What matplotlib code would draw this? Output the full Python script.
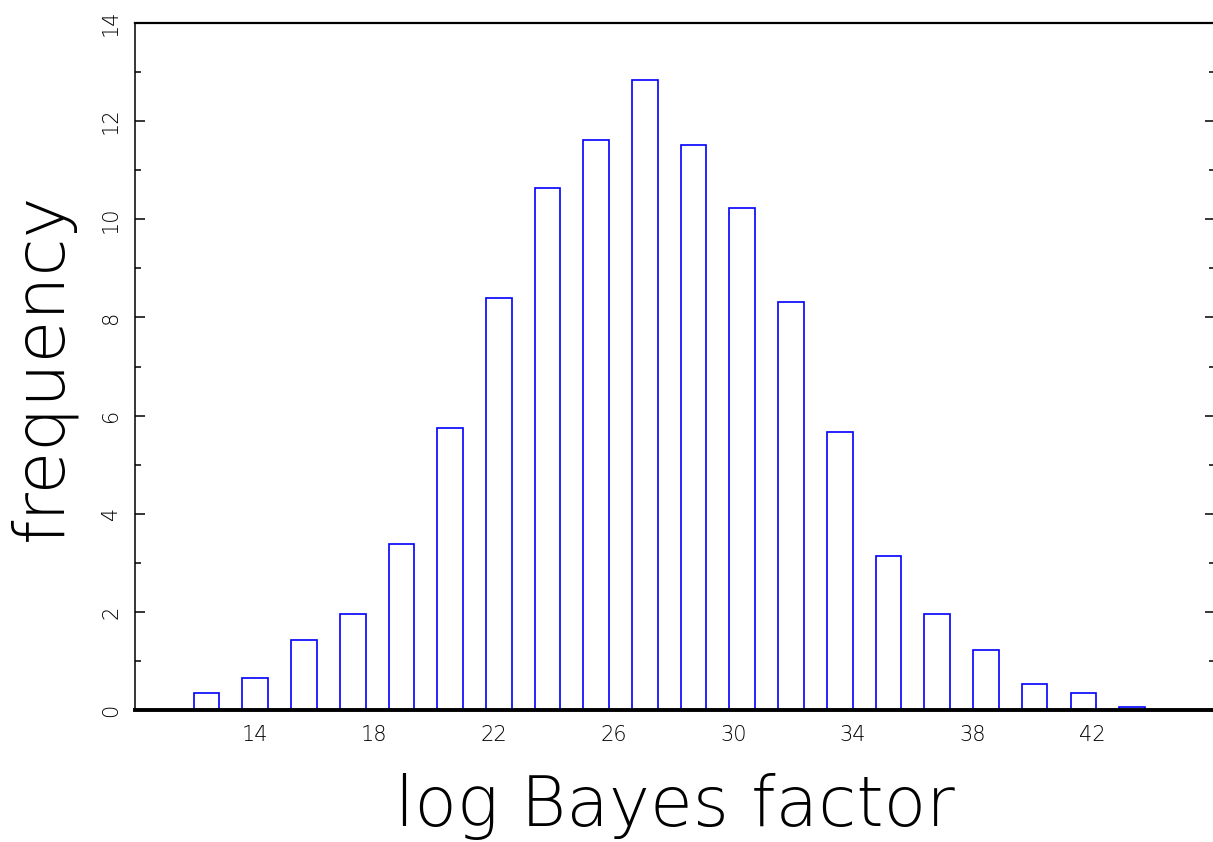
import matplotlib
matplotlib.use('Agg')
import matplotlib.pyplot as plt
from matplotlib.ticker import MultipleLocator

# histogram bins
bin_centers = [12.39, 14.02, 15.65, 17.28, 18.91, 20.53, 22.16, 23.79, 25.42, 27.05,
               28.67, 30.30, 31.93, 33.56, 35.19, 36.81, 38.44, 40.07, 41.70, 43.33]
frequency = [0.35, 0.66, 1.42, 1.95, 3.38, 5.74, 8.39, 10.64, 11.61, 12.84,
             11.52, 10.23, 8.31, 5.66, 3.14, 1.95, 1.22, 0.54, 0.34, 0.07]
x_ticks = [14, 18, 22, 26, 30, 34, 38, 42]
y_ticks = [0, 2, 4, 6, 8, 10, 12, 14]

font = 'DejaVu Sans'

fig = plt.figure(figsize=(12.13, 8.42), dpi=100)
ax = fig.add_axes([135 / 1213, 1 - 710 / 842, 1080 / 1213, 687 / 842])

ax.bar(bin_centers, frequency, width=0.86, facecolor='white', edgecolor='#0000ff', linewidth=1.2)

ax.set_xlim(10, 46.1)
ax.set_ylim(0, 14)

ax.set_xticks(x_ticks)
ax.set_yticks(y_ticks)
ax.yaxis.set_minor_locator(MultipleLocator(1))
ax.tick_params(axis='x', length=0, pad=11, labelsize=15)
ax.tick_params(axis='y', which='both', direction='in', left=True, right=True, pad=10, labelsize=15)
ax.tick_params(axis='y', which='major', length=7.5, width=1.1)
ax.tick_params(axis='y', which='minor', length=4.5, width=1.1)
for lab in ax.get_yticklabels():
    lab.set_rotation(90)
    lab.set_va('center')
for lab in ax.get_xticklabels() + ax.get_yticklabels():
    lab.set_family(font)
    lab.set_weight(200)

ax.spines['bottom'].set_linewidth(2.8)
ax.spines['top'].set_linewidth(1.6)
ax.spines['left'].set_linewidth(1.1)
ax.spines['right'].set_linewidth(1.1)

ax.set_xlabel('log Bayes factor', fontsize=50, family=font, weight=200)
ax.xaxis.set_label_coords(0.5, -0.092)
ax.set_ylabel('frequency', fontsize=50, family=font, weight=200, va='center')
ax.yaxis.set_label_coords(-0.086, 0.5)

fig.savefig('out.png', dpi=100)
